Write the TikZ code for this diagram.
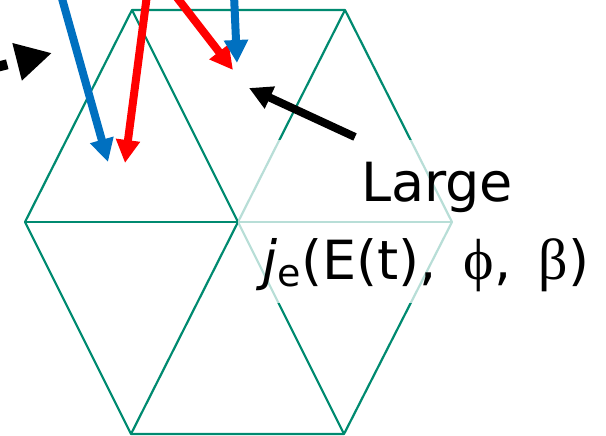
\documentclass[tikz,border=0pt]{standalone}
\usepackage{fontspec}
\setmainfont{DejaVu Sans}
\newfontfamily\greekfont{Liberation Serif}
\usetikzlibrary{arrows.meta}
\definecolor{hexteal}{RGB}{0,138,112}
\definecolor{beamblue}{RGB}{0,112,192}
\definecolor{beamred}{RGB}{255,0,0}

\begin{document}
\begin{tikzpicture}[x=1pt, y=-1pt,
      grid/.style={draw=hexteal, line width=2.2pt, line join=round},
      arr/.style={line width=8pt, -{Triangle[length=23pt, width=23pt]}},
      lbl/.style={align=center, inner sep=0pt, font=\fontsize{54}{78}\selectfont}
    ]
    \useasboundingbox (0,0) rectangle (606,436);
    \clip (0,0) rectangle (606,436);
    % hexagon of six triangles
    \coordinate (c)  at (238,222);
    \coordinate (tl) at (132,10);
    \coordinate (tr) at (345,10);
    \coordinate (r)  at (452,222);
    \coordinate (br) at (344,434);
    \coordinate (bl) at (131,434);
    \coordinate (l)  at (25,222);
    \draw[grid] (tl) -- (tr) -- (r) -- (br) -- (bl) -- (l) -- cycle;
    \foreach \v in {tl,tr,r,br,bl,l}
      \draw[grid] (c) -- (\v);
    % label with its pale backing
    \fill[white, opacity=0.72] (238,140) rectangle (616,303);
    \node[lbl] (label) at (426,227)
      {\hspace*{22pt}Large\\{\itshape j}\raisebox{-0.25ex}{\fontsize{38}{38}\selectfont e}(E(t),\,\,\,{\greekfont\fontsize{58}{58}\selectfont ϕ},\,\,\,{\greekfont\fontsize{58}{58}\selectfont β})};
    % incoming beams
    \coordinate (r1s) at (147,-5);  \coordinate (r1e) at (125,163);
    \coordinate (r2s) at (175,-5);  \coordinate (r2e) at (233,70);
    \coordinate (b1s) at (61,-5);   \coordinate (b1e) at (108,162);
    \coordinate (b2s) at (234,-5);  \coordinate (b2e) at (237,63);
    \draw[arr, beamred]  (r1s) -- (r1e);
    \draw[arr, beamred]  (r2s) -- (r2e);
    \draw[arr, beamblue] (b1s) -- (b1e);
    \draw[arr, beamblue] (b2s) -- (b2e);
    % pointers
    \coordinate (ks) at (355,137);  \coordinate (ke) at (249,88);
    \draw[arr] (ks) -- (ke);
    \coordinate (ds) at (-16,70.2); \coordinate (de) at (52,53);
    \draw[line width=10pt, dash pattern=on 24pt off 20pt,
          -{Triangle[length=36pt, width=36pt]}] (ds) -- (de);
  \end{tikzpicture}
\end{document}
